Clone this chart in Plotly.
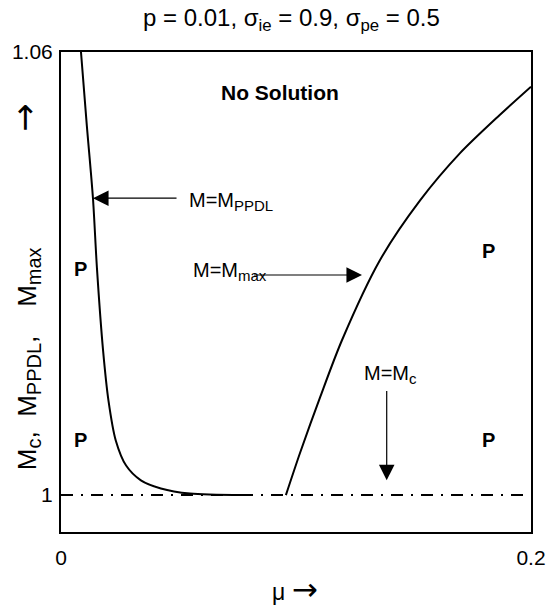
import plotly.graph_objects as go

# M = M_PPDL curve
mu_ppdl = [0.0085, 0.0110, 0.0136, 0.0153, 0.0179, 0.0202, 0.0233, 0.0277, 0.0340, 0.0425, 0.0549, 0.0774]
M_ppdl = [1.0600, 1.0500, 1.0402, 1.0307, 1.0196, 1.0128, 1.0074, 1.0040, 1.0020, 1.0009, 1.0002, 1.0000]

# M = M_max curve
mu_max = [0.0957, 0.1017, 0.1102, 0.1196, 0.1357, 0.1528, 0.1698, 0.1868, 0.2000]
M_max = [1.0000, 1.0057, 1.0132, 1.0210, 1.0318, 1.0399, 1.0463, 1.0515, 1.0553]

# M = M_c line
mu_c = [0.0, 0.2]
M_c = [1.0, 1.0]

x_ticks = [0, 0.2]
x_ticklabels = ["0", "0.2"]
y_ticks = [1, 1.06]
y_ticklabels = ["1", "1.06"]

FONT = "Liberation Sans, Arial, sans-serif"
ARROW = "<span style='font-family:DejaVu Sans;font-size:{}px'>→</span>"
NB = "\u00a0"

fig = go.Figure()
fig.add_trace(go.Scatter(x=mu_c, y=M_c, mode="lines",
                         line=dict(color="black", width=2, dash="12px,8px,2px,8px"),
                         showlegend=False, hoverinfo="skip"))
fig.add_trace(go.Scatter(x=mu_ppdl, y=M_ppdl, mode="lines",
                         line=dict(color="black", width=2, shape="spline", smoothing=0.8),
                         showlegend=False, hoverinfo="skip"))
fig.add_trace(go.Scatter(x=mu_max, y=M_max, mode="lines",
                         line=dict(color="black", width=2, shape="spline", smoothing=0.8),
                         showlegend=False, hoverinfo="skip"))

ann = []
# arrows
arrow_style = dict(showarrow=True, arrowhead=2, arrowsize=2.6, arrowwidth=1.2,
                   arrowcolor="black", text="", xref="x", yref="y", axref="x", ayref="y", standoff=0)
ann.append(dict(x=0.0136, y=1.0402, ax=0.0498, ay=1.0402, **arrow_style))
ann.append(dict(x=0.1281, y=1.0298, ax=0.0815, ay=1.0298, **arrow_style))
ann.append(dict(x=0.1386, y=1.0020, ax=0.1386, ay=1.0143, **arrow_style))

SUB = "<sub><span style='font-size:15px'>{}</span></sub>"
txt = dict(showarrow=False, xref="x", yref="y", font=dict(family=FONT, size=20, color="black"))
ann.append(dict(x=0.0536, y=1.0398, text="M=M" + SUB.format("PPDL"), xanchor="left", yanchor="middle", **txt))
ann.append(dict(x=0.0553, y=1.0303, text="M=M" + SUB.format("max"), xanchor="left", yanchor="middle", **txt))
ann.append(dict(x=0.1281, y=1.0163, text="M=M" + SUB.format("c"), xanchor="left", yanchor="middle", **txt))

bold = dict(showarrow=False, xref="x", yref="y", font=dict(family=FONT, size=21, color="black"))
ann.append(dict(x=0.0932, y=1.0545, text="<b>No Solution</b>", xanchor="center", yanchor="middle", **bold))
bold_p = dict(showarrow=False, xref="x", yref="y", font=dict(family=FONT, size=20, color="black"))
for (px, py) in [(0.0085, 1.0306), (0.0085, 1.0075), (0.1817, 1.0330), (0.1817, 1.0075)]:
    ann.append(dict(x=px, y=py, text="<b>P</b>", xanchor="center", yanchor="middle", **bold_p))

# title and axis titles
ann.append(dict(x=0.491, y=1.068, xref="paper", yref="paper", showarrow=False,
                text="p = 0.01, σ<sub>ie</sub> = 0.9, σ<sub>pe</sub> = 0.5",
                xanchor="center", yanchor="middle", font=dict(family=FONT, size=24, color="black")))
ann.append(dict(x=0.498, y=-0.118, xref="paper", yref="paper", showarrow=False,
                text="μ " + ARROW.format(31),
                xanchor="center", yanchor="middle", font=dict(family=FONT, size=23, color="black")))
YSUB = "<sub><span style='font-size:20px'>{}</span></sub>"
ylab = ("M" + YSUB.format("c") + "," + NB * 2 +
        "M" + YSUB.format("PPDL") + "," + NB * 4 +
        "M" + YSUB.format("max") + NB * 16 + ARROW.format(34))
ann.append(dict(x=-0.0787, y=0.51, xref="paper", yref="paper", showarrow=False, textangle=-90,
                text=ylab, xanchor="center", yanchor="middle",
                font=dict(family=FONT, size=26, color="black")))

fig.update_layout(
    width=548, height=607,
    margin=dict(l=61, r=17, t=52, b=75),
    paper_bgcolor="white", plot_bgcolor="white",
    font=dict(family=FONT, size=21, color="black"),
    annotations=ann,
    xaxis=dict(range=[0, 0.2], tickvals=x_ticks, ticktext=x_ticklabels, automargin=False,
               ticks="inside", ticklen=5, tickcolor="black", showgrid=False, zeroline=False,
               showline=True, linecolor="black", linewidth=2, mirror=True,
               ticklabelstandoff=6, tickfont=dict(family=FONT, size=21)),
    yaxis=dict(range=[0.995, 1.06], tickvals=y_ticks, ticktext=y_ticklabels, automargin=False,
               ticks="inside", ticklen=5, tickcolor="black", showgrid=False, zeroline=False,
               showline=True, linecolor="black", linewidth=2, mirror=True,
               ticklabelstandoff=2, tickfont=dict(family=FONT, size=21)),
)

fig.write_html("out.html", config={"displayModeBar": False},
               post_script="document.body.style.margin='0';")
